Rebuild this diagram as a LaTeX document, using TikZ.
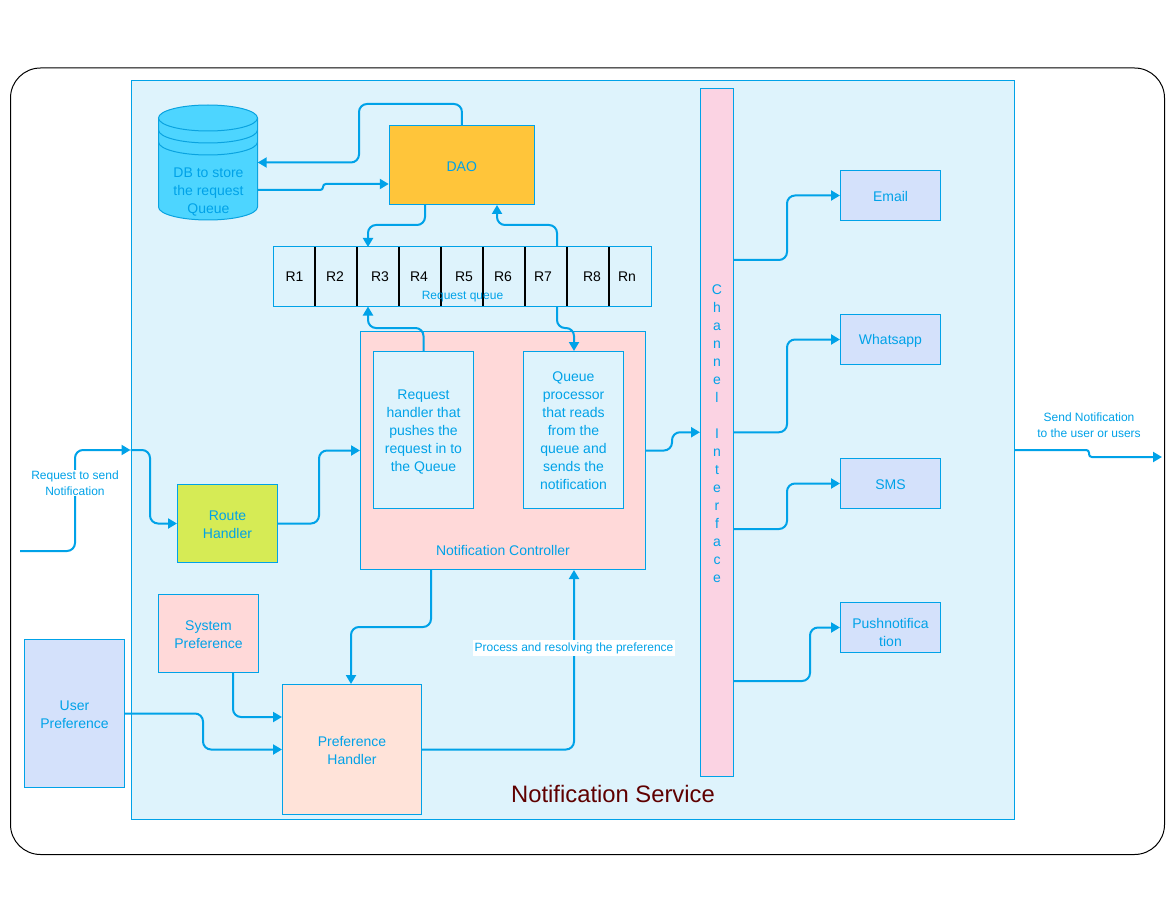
\documentclass[tikz,border=0pt]{standalone}
\usepackage{fontspec}
\setmainfont{Liberation Sans}
\usetikzlibrary{arrows.meta}
\definecolor{line}{HTML}{00A2E8}
\definecolor{bg}{HTML}{DEF3FC}
\definecolor{ctrl}{HTML}{FFD9D9}
\definecolor{lav}{HTML}{D4E1FB}
\definecolor{dbf}{HTML}{4DD5FF}
\definecolor{dbl}{HTML}{0AA3E0}
\definecolor{daof}{HTML}{FFC53A}
\definecolor{routef}{HTML}{D6EB55}
\definecolor{preff}{HTML}{FFE3D9}
\definecolor{chanf}{HTML}{FBD3E3}
\definecolor{titlec}{HTML}{5F0000}
\newcommand{\lowA}{\rule{0pt}{12.2pt}}
\newcommand{\lowB}{\rule{0pt}{14.2pt}}
\newcommand{\lowC}{\rule{0pt}{11.2pt}}
\tikzset{
  box/.style={draw=line,line width=1pt,text=line,align=center,inner sep=0pt,font=\fontsize{14}{18}\selectfont,execute at begin node={\rule{0pt}{12.5pt}}},
  conn/.style={draw=line,line width=2pt,rounded corners=8pt,-{Triangle[length=9pt,width=10pt]}},
  jogconn/.style={conn,rounded corners=2.8pt},
  small/.style={text=line,align=center,inner sep=1pt,font=\fontsize{12}{16}\selectfont},
  rlabel/.style={text=black,inner sep=0pt,font=\fontsize{14}{16}\selectfont},
  divider/.style={draw=black,line width=1.6pt}
}
\begin{document}
\begin{tikzpicture}[x=1pt,y=-1pt]
\useasboundingbox (0,0) rectangle (1175,901);
\draw[black,line width=1pt,rounded corners=30pt] (10.5,68) rectangle (1164.5,854.5);
\node[box,fill=bg,minimum width=883pt,minimum height=738pt,anchor=north west] (service) at (130.5,80.5) {};
% database
\filldraw[fill=dbf,draw=dbl,line width=1pt] (158.5,118) -- (158.5,207) arc[start angle=180,end angle=360,x radius=49.5,y radius=-13] -- (257.5,118);
\filldraw[fill=dbf,draw=dbl,line width=1pt] (208,118) ellipse[x radius=49.5,y radius=13];
\draw[dbl,line width=1pt] (158.5,130) arc[start angle=180,end angle=360,x radius=49.5,y radius=-13];
\draw[dbl,line width=1pt] (158.5,142) arc[start angle=180,end angle=360,x radius=49.5,y radius=-13];
\node[minimum width=99pt,minimum height=115pt,inner sep=0pt] (db) at (208,162.5) {};
\node[box,draw=none,text=line] (dblabel) at (208.5,189.5) {\lowB DB to store\\the request\\Queue};
% main boxes
\node[box,fill=daof,minimum width=145pt,minimum height=79pt,execute at begin node={}] (dao) at (461.75,165) {DAO};
\node[box,fill=bg,minimum width=378pt,minimum height=59.5pt] (queue) at (462.5,276.75) {};
\foreach \x in {315,357,399,441,483,525,567,609}{\draw[divider] (\x,247) -- (\x,306.5);}
\node[rlabel] (r1) at (294.5,277) {R1};
\node[rlabel] (r2) at (335,277) {R2};
\node[rlabel] (r3) at (380,277) {R3};
\node[rlabel] (r4) at (419,277) {R4};
\node[rlabel] (r5) at (464,277) {R5};
\node[rlabel] (r6) at (503,277) {R6};
\node[rlabel] (r7) at (543,277) {R7};
\node[rlabel] (r8) at (592,277) {R8};
\node[rlabel] (rn) at (627,277) {Rn};
\node[small] (qlabel) at (462.5,297) {Request queue};
\node[box,fill=ctrl,minimum width=285pt,minimum height=238pt] (ctrl) at (503,450.5) {};
\node[box,draw=none] (ctrllabel) at (503,549) {Notification Controller};
\node[box,fill=bg,minimum width=100pt,minimum height=157pt] (reqh) at (423.5,430) {\lowB Request\\handler that\\pushes the\\request in to\\the Queue};
\node[box,fill=bg,minimum width=100pt,minimum height=157pt] (qproc) at (573.5,430) {\lowC Queue\\processor\\that reads\\from the\\queue and\\sends the\\notification};
\node[box,fill=chanf,minimum width=33pt,minimum height=687.5pt] (chan) at (717,432.25) {\lowA C\\h\\a\\n\\n\\e\\l\\ \\I\\n\\t\\e\\r\\f\\a\\c\\e};
\node[box,fill=lav,minimum width=100pt,minimum height=50pt] (email) at (890.5,195.5) {Email};
\node[box,fill=lav,minimum width=100pt,minimum height=50pt] (whats) at (890.5,339.5) {Whatsapp};
\node[box,fill=lav,minimum width=100pt,minimum height=50pt] (sms) at (890.5,483.5) {SMS};
\node[box,fill=lav,minimum width=100pt,minimum height=50pt] (push) at (890.5,627.5) {\rule{0pt}{20pt}Pushnotifica\\tion};
\node[box,fill=routef,minimum width=100pt,minimum height=78pt] (route) at (227.5,523.5) {\lowA Route\\Handler};
\node[box,fill=ctrl,minimum width=100pt,minimum height=78pt] (sys) at (208.5,633.5) {\lowA System\\Preference};
\node[box,fill=lav,minimum width=100pt,minimum height=148pt] (user) at (74.5,713.5) {\lowA User\\Preference};
\node[box,fill=preff,minimum width=139pt,minimum height=130pt] (pref) at (352,749.5) {\lowA Preference\\Handler};
\node[text=titlec,inner sep=0pt,font=\fontsize{23.8}{30}\selectfont] (title) at (613,794) {Notification Service};
% free ends
\coordinate (inp) at (20,551);
\coordinate (outp) at (1162,457);
% connectors
\draw[conn] (inp) -- (75,551) -- (75,450) -- (service.west |- 0,450);
\draw[conn] (service.west |- 0,450) -- (150,450) -- (150,523.5) -- (route.west);
\draw[conn] (route.east) -- (319,523.5) -- (319,450.5) -- (ctrl.west);
\draw[conn] (ctrl.east) -- (672,450.5) -- (672,432.25) -- (chan.west);
\draw[conn] (chan.east |- 0,260) -- (787,260) -- (787,195.5) -- (email.west);
\draw[conn] (chan.east) -- (787,432.25) -- (787,339.5) -- (whats.west);
\draw[conn] (chan.east |- 0,529) -- (787,529) -- (787,483.5) -- (sms.west);
\draw[conn] (chan.east |- 0,681) -- (810,681) -- (810,627.5) -- (push.west);
\draw[jogconn] (service.east |- 0,450) -- (1089,450) -- (1089,457) -- (outp);
\draw[conn] (dao.north) -- (462,104) -- (359,104) -- (359,162.5) -- (db.east);
\draw[jogconn] ([yshift=-27.5pt]db.east) -- (323,190) -- (323,184) -- (dao.west |- 0,184);
\draw[conn] (dao.south -| 425,0) -- (425,225) -- (368,225) -- (368,247);
\draw[conn] (557,247) -- (557,225) -- (497,225) -- (dao.south -| 497,0);
\draw[conn] (557,306.5) -- (557,328) -- (574,328) -- (qproc.north -| 574,0);
\draw[conn] (reqh.north) -- (423.5,328) -- (368,328) -- (368,306.5);
\draw[conn] (ctrl.south -| 431,0) -- (431,627) -- (351,627) -- (pref.north -| 351,0);
\draw[conn] (pref.east) -- (574,749.5) -- (ctrl.south -| 574,0);
\draw[conn] (sys.south -| 233,0) -- (233,717) -- (pref.west |- 0,717);
\draw[conn] (user.east) -- (203,713.5) -- (203,749.5) -- (pref.west);
% labels on connectors
\node[small,fill=white] (reqlabel) at (75,483) {Request to send\\Notification};
\node[small,fill=white] (sendlabel) at (1089,425) {Send Notification\\to the user or users};
\node[small,fill=white,inner sep=2pt] (proclabel) at (574,648) {Process and resolving the preference};
\end{tikzpicture}
\end{document}
